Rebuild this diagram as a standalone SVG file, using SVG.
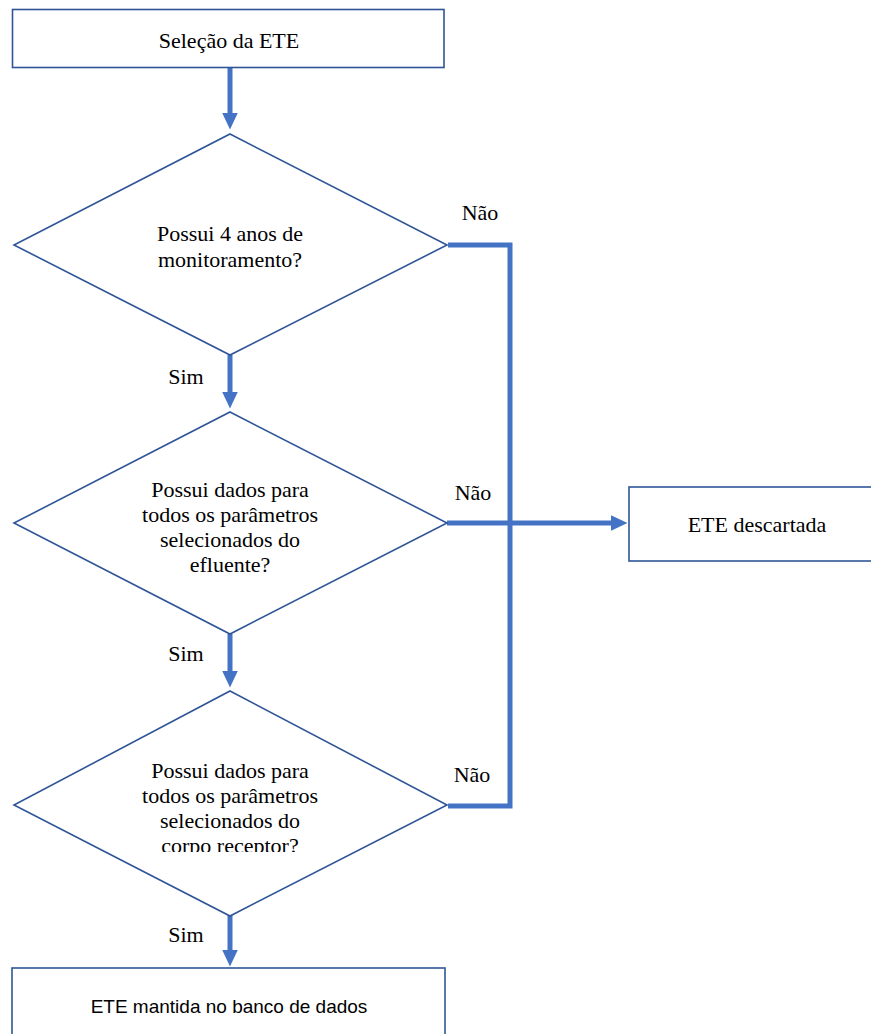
<svg xmlns="http://www.w3.org/2000/svg" width="871" height="1034" viewBox="0 0 871 1034">
<style>
.box{fill:#ffffff;stroke:#2F5597;stroke-width:1.6}
.t{font-family:'Liberation Serif','Times New Roman',Tinos,'DejaVu Serif',serif;font-size:22px;fill:#000000;text-anchor:middle}
.s{font-family:'Liberation Sans',Arial,sans-serif;font-size:19px;fill:#000000;text-anchor:middle}
.c{fill:none;stroke:#4472C4;stroke-width:5}
</style>
<defs>
<marker id="ah" markerUnits="userSpaceOnUse" markerWidth="18" markerHeight="16" refX="0.5" refY="8" orient="auto">
<path d="M0,0 L17,8 L0,16 z" fill="#4472C4"/>
</marker>
<clipPath id="clip3"><rect x="0" y="690" width="460" height="162"/></clipPath>
</defs>
<rect width="871" height="1034" fill="#ffffff"/>
<g id="connectors">
<line class="c" x1="230" y1="68" x2="230" y2="113" marker-end="url(#ah)"/>
<line class="c" x1="230" y1="355" x2="230" y2="392" marker-end="url(#ah)"/>
<line class="c" x1="230" y1="634" x2="230" y2="671" marker-end="url(#ah)"/>
<line class="c" x1="230" y1="915" x2="230" y2="950" marker-end="url(#ah)"/>
<polyline class="c" points="448,245 510,245 510,806 448,806"/>
<line class="c" x1="447" y1="523" x2="611" y2="523" marker-end="url(#ah)"/>
<g font-family="Liberation Serif, serif">
<text class="t" x="480" y="220">Não</text>
<text class="t" x="473" y="500">Não</text>
<text class="t" x="472" y="782">Não</text>
<text class="t" x="186" y="384">Sim</text>
<text class="t" x="186" y="661">Sim</text>
<text class="t" x="186" y="942">Sim</text>
</g>
</g>
<g id="start" font-family="Liberation Serif, serif">
<rect class="box" x="12.5" y="9.5" width="431.5" height="58"/>
<text class="t" x="229" y="48">Seleção da ETE</text>
</g>
<g id="d1" font-family="Liberation Serif, serif">
<polygon class="box" points="230,134 447,245 230,355 14,245"/>
<text class="t" x="230" y="241">Possui 4 anos de</text>
<text class="t" x="230" y="267">monitoramento?</text>
</g>
<g id="d2" font-family="Liberation Serif, serif">
<polygon class="box" points="230,412 447,523 230,634 14,523"/>
<text class="t" x="230" y="497">Possui dados para</text>
<text class="t" x="230" y="522">todos os parâmetros</text>
<text class="t" x="230" y="547">selecionados do</text>
<text class="t" x="230" y="572">efluente?</text>
</g>
<g id="d3" font-family="Liberation Serif, serif">
<polygon class="box" points="230,691 447,805 230,916 14,805"/>
<g clip-path="url(#clip3)">
<text class="t" x="230" y="778">Possui dados para</text>
<text class="t" x="230" y="803">todos os parâmetros</text>
<text class="t" x="230" y="828">selecionados do</text>
<text class="t" x="230" y="853">corpo receptor?</text>
</g>
</g>
<g id="discard" font-family="Liberation Serif, serif">
<rect class="box" x="629" y="487" width="250" height="74"/>
<text class="t" x="757" y="532">ETE descartada</text>
</g>
<g id="keep">
<rect class="box" x="12" y="968" width="433" height="90"/>
<text class="s" x="229" y="1013">ETE mantida no banco de dados</text>
</g>
</svg>
